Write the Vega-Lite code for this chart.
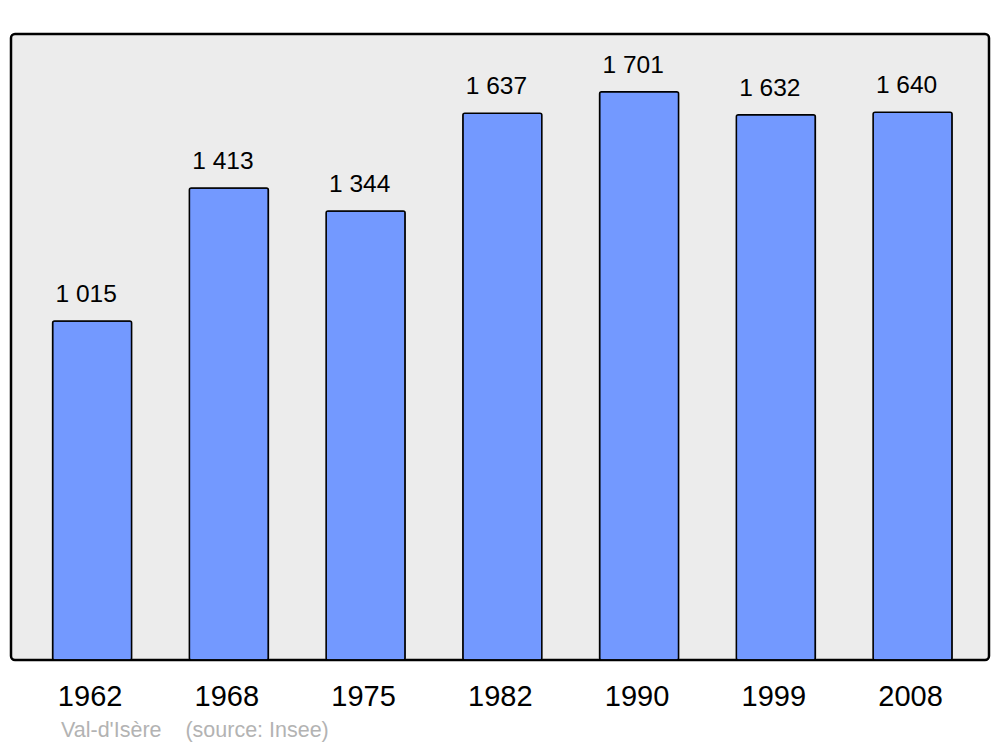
{
  "$schema": "https://vega.github.io/schema/vega-lite/v6.json",
  "width": 978,
  "height": 626,
  "autosize": "none",
  "padding": {"left": 11, "top": 34, "right": 11, "bottom": 87},
  "background": "white",
  "config": {
    "font": "Liberation Sans",
    "locale": {"number": {"decimal": ",", "thousands": " ", "grouping": [3], "currency": ["", " €"]}},
    "view": {"fill": "#ececec", "stroke": "black", "strokeWidth": 2.5, "cornerRadius": 4}
  },
  "title": {
    "text": "Val-d'Isère\u00a0\u00a0\u00a0\u00a0(source: Insee)",
    "orient": "bottom",
    "anchor": "start",
    "dx": 50,
    "offset": 9,
    "fontSize": 21.5,
    "fontWeight": "normal",
    "color": "#b3b3b3",
    "font": "Liberation Sans"
  },
  "data": {
    "values": [
      {"year": "1962", "pop": 1015},
      {"year": "1968", "pop": 1413},
      {"year": "1975", "pop": 1344},
      {"year": "1982", "pop": 1637},
      {"year": "1990", "pop": 1701},
      {"year": "1999", "pop": 1632},
      {"year": "2008", "pop": 1640}
    ]
  },
  "encoding": {
    "x": {
      "field": "year",
      "type": "ordinal",
      "sort": null,
      "scale": {"paddingInner": 0.422, "paddingOuter": 0.287, "align": 0.53},
      "axis": {
        "title": null,
        "domain": false,
        "ticks": false,
        "labelAngle": 0,
        "labelFontSize": 29,
        "labelColor": "black",
        "labelPadding": 22,
        "labelOffset": -2,
        "labelFont": "Liberation Sans"
      }
    },
    "y": {
      "field": "pop",
      "type": "quantitative",
      "scale": {"domain": [0, 1874], "nice": false},
      "axis": null
    }
  },
  "layer": [
    {
      "mark": {"type": "bar", "fill": "#7399ff", "stroke": "black", "strokeWidth": 1.5, "cornerRadius": 2}
    },
    {
      "mark": {"type": "text", "baseline": "alphabetic", "dy": -19, "dx": -6, "fontSize": 24.5, "color": "black", "font": "Liberation Sans"},
      "encoding": {
        "text": {"field": "pop", "type": "quantitative", "format": ",d"}
      }
    }
  ]
}
